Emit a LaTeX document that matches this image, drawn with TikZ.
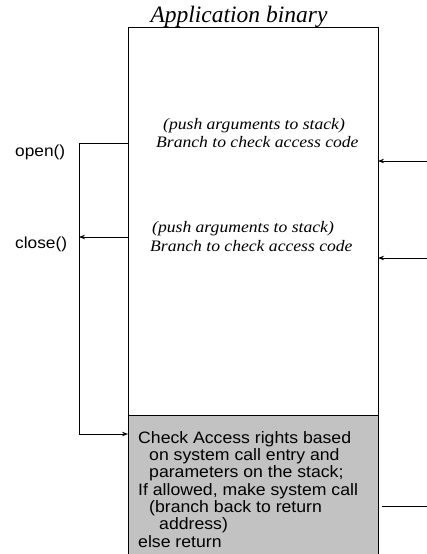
\documentclass[tikz,border=0pt]{standalone}
\usepackage{fontspec}
\setmainfont{Liberation Serif}
\newfontfamily\titlefont{Liberation Serif Italic}
\newfontfamily\codefont[FakeStretch=1.1]{Liberation Serif Italic}
\newfontfamily\labelfont[FakeStretch=1.08]{Liberation Sans}
\newfontfamily\checkfont[FakeStretch=1.07]{Liberation Sans}
\usetikzlibrary{arrows.meta}
\definecolor{checkgray}{gray}{0.76}
\tikzset{
  tip/.style={-{Stealth[length=6pt,width=4.5pt]}},
  wire/.style={line width=0.8pt},
  codeline/.style={anchor=base west, inner sep=0pt, font=\codefont\fontsize{16}{18}\selectfont},
  callname/.style={anchor=base west, inner sep=0pt, font=\labelfont\fontsize{16}{18}\selectfont},
  checkline/.style={anchor=base west, inner sep=0pt, font=\checkfont\fontsize{16.5}{18}\selectfont},
}
\begin{document}
\begin{tikzpicture}[x=1pt,y=-1pt]
\useasboundingbox (0,0) rectangle (427,554);

% title
\node[anchor=base, inner sep=0pt, font=\titlefont\fontsize{23.5}{26}\selectfont] (title) at (239,22) {Application binary};

% check-access region and binary outline
\fill[checkgray] (128,415) rectangle (378,554);
\draw[wire] (128,554) -- (128,27) -- (378,27) -- (378,554);
\draw[wire] (128,415) -- (378,415);

% call sites
\node[codeline] (push1) at (163,129) {(push arguments to stack)};
\node[codeline] (br1) at (156,147) {Branch to check access code};
\node[codeline] (push2) at (152,232) {(push arguments to stack)};
\node[codeline] (br2) at (150,251) {Branch to check access code};

% check code
\node[checkline] (c1) at (138,443) {Check Access rights based};
\node[checkline] (c2) at (149,460.3) {on system call entry and};
\node[checkline] (c3) at (149,477.6) {parameters on the stack;};
\node[checkline] (c4) at (138,495) {If allowed, make system call};
\node[checkline] (c5) at (149,512.3) {(branch back to return};
\node[checkline] (c6) at (159,529.6) {address)};
\node[checkline] (c7) at (138,547) {else return};

% system call names
\node[callname] (open) at (15,156) {open()};
\node[callname] (close) at (15,248) {close()};

% connectors
\coordinate (openL) at (128,143);
\coordinate (bendA) at (79,143);
\coordinate (bendB) at (79,434);
\coordinate (chkL) at (128,434);
\coordinate (closeL) at (128,237);
\coordinate (closeR) at (79,237);
\draw[wire, tip] (openL) -- (bendA) -- (bendB) -- (chkL);
\draw[wire, tip] (closeL) -- (closeR);

\coordinate (in1) at (427,161);
\coordinate (at1) at (378,161);
\coordinate (in2) at (427,258);
\coordinate (at2) at (378,258);
\draw[wire, tip] (in1) -- (at1);
\draw[wire, tip] (in2) -- (at2);

\coordinate (retA) at (382,506);
\coordinate (retB) at (427,506);
\draw[wire] (retA) -- (retB);
\end{tikzpicture}
\end{document}
